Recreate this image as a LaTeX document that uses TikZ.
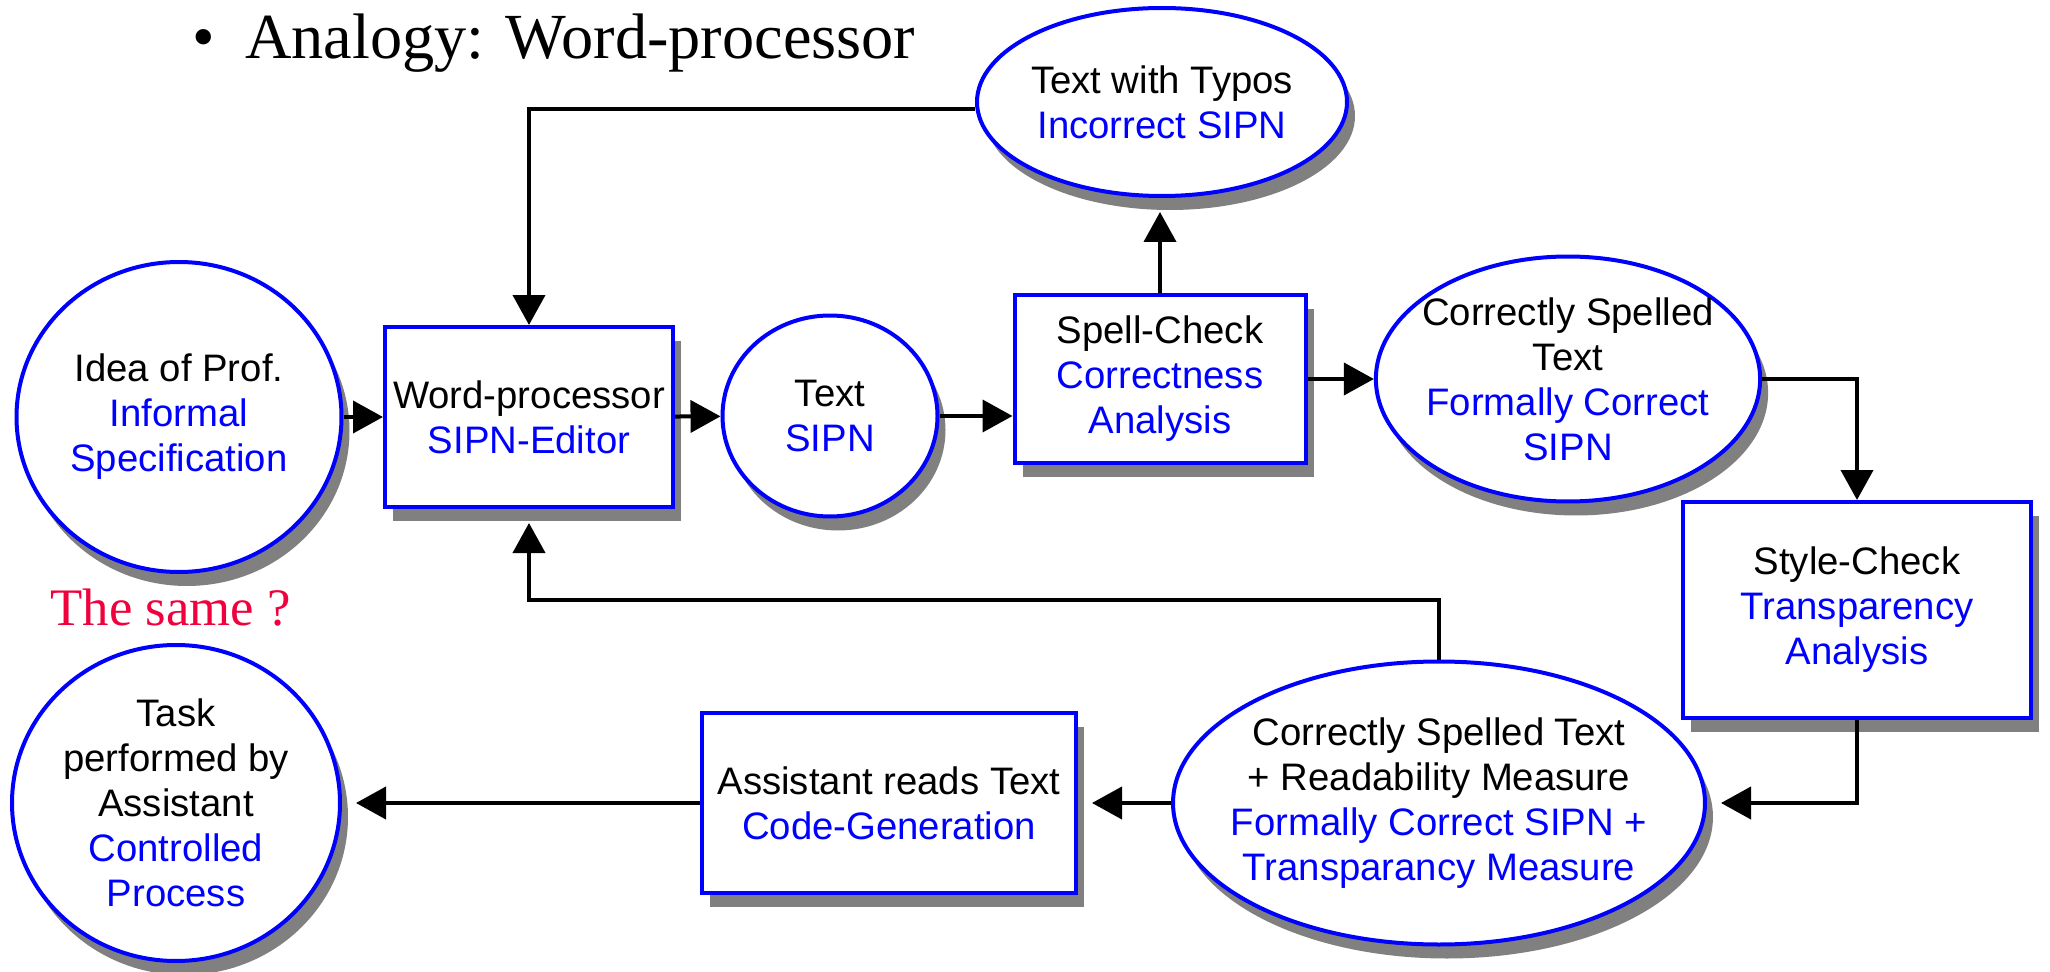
\documentclass[tikz,border=0pt]{standalone}
\usepackage{fontspec}
\setmainfont{Liberation Sans}
\newfontfamily\timesfont{Liberation Serif}
\usetikzlibrary{shapes.geometric, shadows, arrows.meta}
\definecolor{samered}{RGB}{240,0,60}
\newcommand{\spec}[1]{\textcolor{blue}{#1}}

\begin{document}
\begin{tikzpicture}[x=0.1mm, y=-0.1mm,
    every node/.style={align=center, inner sep=0pt, font=\fontsize{10.9}{12.8}\selectfont},
    part/.style={fill=white, draw=blue, line width=0.4mm,
      drop shadow={shadow xshift=0.8mm, shadow yshift=-1.4mm, fill=gray, opacity=1}},
    stage/.style={part, rectangle, minimum width=#1},
    blob/.style={part, ellipse},
    flow/.style={-{Triangle[length=3mm, width=3.2mm]}, line width=0.4mm},
    past/.style={shorten >=1.4mm}]
    \useasboundingbox (0,0) rectangle (2050,972);
    \node[blob, minimum width=32.5mm, minimum height=31mm] (idea) at (179,417)
        {Idea of Prof.\\ \spec{Informal}\\ \spec{Specification}};
    \node[stage=28.8mm, minimum height=18mm] (word) at (529,417) {Word-processor\\ \spec{SIPN-Editor}};
    \node[blob, minimum width=21.5mm, minimum height=20.1mm] (text) at (830,416) {Text\\ \spec{SIPN}};
    \node[stage=29.1mm, minimum height=16.8mm] (spell) at (1160,379)
        {Spell-Check\\ \spec{Correctness}\\ \spec{Analysis}};
    \node[blob, minimum width=37mm, minimum height=18.8mm, inner xsep=-0.4mm] (typos) at (1162,102)
        {Text with Typos\\ \spec{Incorrect SIPN}};
    \node[blob, minimum width=38.1mm, minimum height=24.5mm, inner xsep=-1mm, inner ysep=-0.5mm] (correct) at (1568,379)
        {Correctly Spelled\\ Text\\ \spec{Formally Correct}\\ \spec{SIPN}};
    \node[stage=34.8mm, minimum height=21.6mm] (style) at (1857,610)
        {Style-Check\\ \spec{Transparency}\\ \spec{Analysis}};
    \node[blob, minimum width=52.8mm, minimum height=28.3mm, inner xsep=-2mm] (measure) at (1439,803)
        {Correctly Spelled Text\\ + Readability Measure\\ \spec{Formally Correct SIPN +}\\ \spec{Transparancy Measure}};
    \node[stage=37.4mm, minimum height=18mm] (reads) at (889,803) {Assistant reads Text\\ \spec{Code-Generation}};
    \node[blob, minimum width=32.8mm, minimum height=31.6mm] (task) at (176,803)
        {Task\\ performed by\\ Assistant\\ \spec{Controlled}\\ \spec{Process}};
    \node[anchor=base west, font=\timesfont\fontsize{18.3}{22}\selectfont]
        (title) at (192,59) {\textbullet\hspace{3mm}Analogy: Word-processor};
    \node[anchor=base west, text=samered, font=\timesfont\fontsize{15}{18}\selectfont]
        (same) at (50,625) {The same ?};
    \coordinate (back) at (1439,600);

    \draw[flow] (idea) -- (word);
    \draw[flow] (word) -- (text);
    \draw[flow] (text.east) -- (text.east -| spell.west);
    \draw[flow, past] (spell.north) -- (spell.north |- typos.south);
    \draw[flow] (typos.182.5) -| (word.north);
    \draw[flow] (spell) -- (correct);
    \draw[flow] (correct.east) -| (style.north);
    \draw[flow, past] (style.south) |- (measure.east);
    \draw[flow, past] (measure.north) -- (back) -| (word.south);
    \draw[flow, past] (measure) -- (reads);
    \draw[flow, past] (reads) -- (task);
\end{tikzpicture}
\end{document}
